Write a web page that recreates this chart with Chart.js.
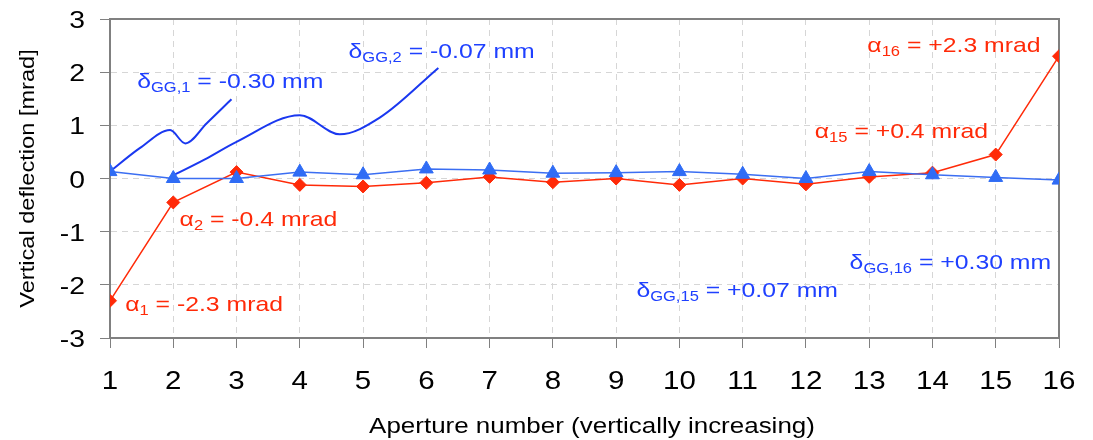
<!DOCTYPE html>
<html>
<head>
<meta charset="utf-8">
<script src="https://cdn.jsdelivr.net/npm/chart.js@4.4.1/dist/chart.umd.min.js"></script>
<style>
  html, body { margin: 0; padding: 0; background: #fff; }
  #wrap { width: 1093px; height: 440px; position: relative; }
</style>
</head>
<body>
<div id="wrap"><canvas id="deflectionChart"></canvas></div>
<script>
// aperture numbers on the x axis
const apertures = [1, 2, 3, 4, 5, 6, 7, 8, 9, 10, 11, 12, 13, 14, 15, 16];
// red diamonds: alpha [mrad]
const alphaValues = [-2.3, -0.45, 0.12, -0.12, -0.15, -0.08, 0.03, -0.07, 0.0, -0.12, 0.0, -0.11, 0.03, 0.11, 0.45, 2.3];
// blue triangles: deflection from delta_GG [mrad]
const deltaValues = [0.13, 0.0, 0.0, 0.12, 0.07, 0.18, 0.16, 0.1, 0.11, 0.13, 0.08, 0.0, 0.13, 0.07, 0.02, -0.03];
const yTickValues = [-3, -2, -1, 0, 1, 2, 3];

const xTitle = "Aperture number (vertically increasing)";
const yTitle = "Vertical deflection [mrad]";

// hand-drawn callout curves (data units)
const gg1CurveX = [1, 1.47, 1.95, 2.19, 2.53, 2.92];
const gg1CurveY = [0.13, 0.57, 0.91, 0.66, 1.04, 1.49];
const gg2CurveX = [1.95, 2.5, 3, 4.0, 4.63, 5.27, 6.19];
const gg2CurveY = [0.03, 0.36, 0.69, 1.19, 0.83, 1.15, 2.08];

// labels: symbol, subscript, rest, anchor (left / baseline) in data units
const labels = [
  { sym: "δ", sub: "GG,1",  rest: " = -0.30 mm", x: 1.43,  y: 1.70,  series: "delta" },
  { sym: "δ", sub: "GG,2",  rest: " = -0.07 mm", x: 4.77,  y: 2.26,  series: "delta" },
  { sym: "α", sub: "2",     rest: " = -0.4 mrad", x: 2.10, y: -0.89, series: "alpha" },
  { sym: "α", sub: "1",     rest: " = -2.3 mrad", x: 1.24, y: -2.50, series: "alpha" },
  { sym: "α", sub: "16",    rest: " = +2.3 mrad", x: 12.97, y: 2.38, series: "alpha" },
  { sym: "α", sub: "15",    rest: " = +0.4 mrad", x: 12.14, y: 0.755, series: "alpha" },
  { sym: "δ", sub: "GG,15", rest: " = +0.07 mm", x: 9.32,  y: -2.22, series: "delta" },
  { sym: "δ", sub: "GG,16", rest: " = +0.30 mm", x: 12.69, y: -1.70, series: "delta" }
];

const FONT = '"Liberation Sans", Arial, sans-serif';
const STRETCH = 1.18;
const RED = "#ff2a08";
const BLUE = "#2f6cf5";
const TEXT_COLORS = { alpha: "#ff2a08", delta: "#1f40ff" };

function stretchedText(ctx, str, x, y, size, align, color) {
  ctx.save();
  ctx.translate(x, y);
  ctx.scale(STRETCH, 1);
  ctx.font = size + "px " + FONT;
  ctx.fillStyle = color;
  ctx.textAlign = align;
  ctx.textBaseline = "alphabetic";
  ctx.fillText(str, 0, 0);
  ctx.restore();
}

const textPlugin = {
  id: "textPlugin",
  beforeDatasetsDraw(chart) {
    const { ctx, chartArea: a } = chart;
    ctx.save();
    ctx.strokeStyle = "#808080";
    ctx.lineWidth = 2;
    ctx.strokeRect(a.left, a.top, a.right - a.left, a.bottom - a.top);
    ctx.restore();
  },
  afterDraw(chart) {
    const { ctx, chartArea: a } = chart;
    const xs = chart.scales.x, ys = chart.scales.y;

    // tick labels
    apertures.forEach(v => stretchedText(ctx, String(v), xs.getPixelForValue(v), 389, 25, "center", "#000"));
    yTickValues.forEach(v => stretchedText(ctx, String(v), 85, ys.getPixelForValue(v) + 9, 24, "right", "#000"));

    // axis titles
    stretchedText(ctx, xTitle, 592, 433, 22, "center", "#000");
    ctx.save();
    ctx.translate(34, (a.top + a.bottom) / 2);
    ctx.rotate(-Math.PI / 2);
    ctx.scale(STRETCH, 1);
    ctx.font = "20px " + FONT;
    ctx.fillStyle = "#000";
    ctx.textAlign = "center";
    ctx.fillText(yTitle, 0, 0);
    ctx.restore();

    // annotations with subscripts
    labels.forEach(l => {
      ctx.save();
      ctx.translate(xs.getPixelForValue(l.x), ys.getPixelForValue(l.y));
      ctx.scale(STRETCH, 1);
      ctx.fillStyle = TEXT_COLORS[l.series];
      ctx.textAlign = "left";
      ctx.textBaseline = "alphabetic";
      let cx = 0;
      ctx.font = "21px " + FONT;
      ctx.fillText(l.sym, cx, 0);
      cx += ctx.measureText(l.sym).width;
      ctx.font = "14px " + FONT;
      ctx.fillText(l.sub, cx, 4);
      cx += ctx.measureText(l.sub).width;
      ctx.font = "21px " + FONT;
      ctx.fillText(l.rest, cx, 0);
      ctx.restore();
    });
  }
};

const ctx = document.getElementById("deflectionChart").getContext("2d");

new Chart(ctx, {
  type: "line",
  data: {
    datasets: [
      {
        label: "delta",
        data: apertures.map((a, i) => ({ x: a, y: deltaValues[i] })),
        borderColor: "#3b6ef2",
        borderWidth: 1.5,
        pointStyle: "triangle",
        pointRadius: 8,
        pointBackgroundColor: BLUE,
        pointBorderColor: BLUE,
        pointBorderWidth: 1,
        tension: 0,
        order: 1
      },
      {
        label: "alpha",
        data: apertures.map((a, i) => ({ x: a, y: alphaValues[i] })),
        borderColor: RED,
        borderWidth: 1.5,
        pointStyle: "rectRot",
        pointRadius: 6.5,
        pointBackgroundColor: RED,
        pointBorderColor: RED,
        pointBorderWidth: 1,
        tension: 0,
        order: 2
      },
      {
        label: "gg1",
        data: gg1CurveX.map((x, i) => ({ x: x, y: gg1CurveY[i] })),
        borderColor: "#1a38f0",
        borderWidth: 2,
        pointRadius: 0,
        cubicInterpolationMode: "monotone",
        order: 3
      },
      {
        label: "gg2",
        data: gg2CurveX.map((x, i) => ({ x: x, y: gg2CurveY[i] })),
        borderColor: "#1a38f0",
        borderWidth: 2,
        pointRadius: 0,
        cubicInterpolationMode: "monotone",
        order: 3
      }
    ]
  },
  options: {
    responsive: true,
    maintainAspectRatio: false,
    animation: false,
    layout: { padding: { left: 0, right: 34, top: 19, bottom: 0 } },
    plugins: {
      legend: { display: false },
      tooltip: { enabled: false }
    },
    scales: {
      x: {
        type: "linear",
        min: 1,
        max: 16,
        ticks: { display: false, stepSize: 1 },
        grid: { color: "#d6d6d6", tickColor: "#808080", tickLength: 10, tickBorderDash: [] },
        border: { display: true, color: "#808080", width: 2, dash: [6, 5] },
        afterFit: s => { s.height = 102; }
      },
      y: {
        min: -3,
        max: 3,
        ticks: { display: false, stepSize: 1 },
        grid: { color: "#d6d6d6", tickColor: "#808080", tickLength: 10, tickBorderDash: [] },
        border: { display: true, color: "#808080", width: 2, dash: [6, 5] },
        afterFit: s => { s.width = 110; }
      }
    }
  },
  plugins: [textPlugin]
});
</script>
</body>
</html>
